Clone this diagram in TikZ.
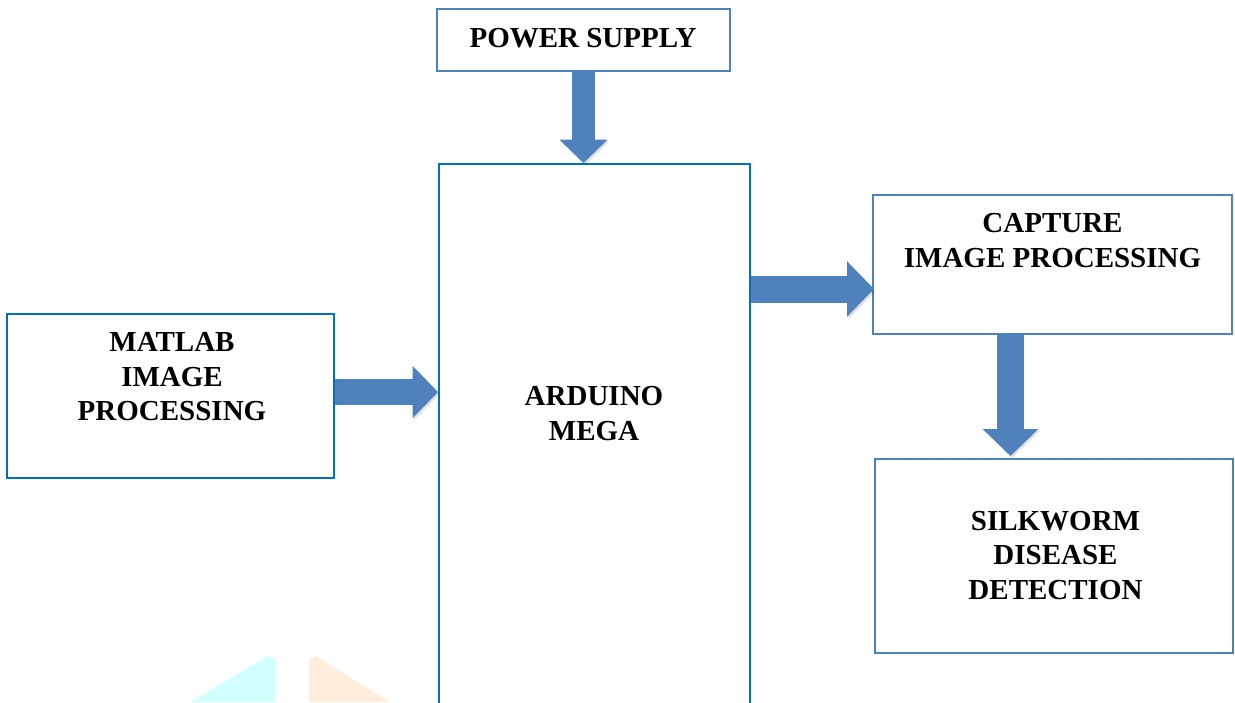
\documentclass[tikz,border=0pt]{standalone}
\usepackage{fontspec}
\setmainfont{Liberation Serif}
\usepackage{xcolor}
\usetikzlibrary{arrows.meta,calc}
\definecolor{boxblue}{HTML}{4F81BD}
\definecolor{darkblue}{HTML}{0070C0}
\definecolor{markcyan}{HTML}{D2FFFF}
\definecolor{markorange}{HTML}{FFEEDC}
\begin{document}
\begin{tikzpicture}[x=1pt,y=-1pt,
  block/.style={shape=rectangle,draw=boxblue,line width=2pt,inner sep=0pt},
  label/.style={align=center,inner sep=0pt,font=\fontsize{29}{34.5}\selectfont\bfseries},
  fatarrow/.style 2 args={draw=boxblue,line width=#1,line cap=butt,
    -{Triangle[width=#2,length=0.5*#2]},
    preaction={draw=black,opacity=0.12,transform canvas={shift={(1.5pt,-2pt)}}}}]
\clip (0,0) rectangle (1235,702);
\fill[white] (0,0) rectangle (1235,702);
% faint marks at the bottom
\fill[markcyan] (190,702) -- (268,656) -- (276,660) -- (276,702) -- cycle;
\fill[markorange] (309,702) -- (309,659) -- (316,656) -- (390,702) -- cycle;
% boxes
\node[block,minimum width=293pt,minimum height=62pt] (power) at (583.5,40) {};
\node[block,draw=darkblue,minimum width=311pt,minimum height=576pt] (arduino) at (594.5,452) {};
\node[block,draw=darkblue,minimum width=327pt,minimum height=164pt] (matlab) at (170.5,396) {};
\node[block,minimum width=359pt,minimum height=139pt] (capture) at (1052.5,264.5) {};
\node[block,minimum width=358pt,minimum height=194pt] (silkworm) at (1054,556) {};
% texts
\node[label] (powertxt) at (583,38) {POWER SUPPLY};
\node[label] (arduinotxt) at (594,413.5) {ARDUINO\\MEGA};
\node[label] (matlabtxt) at (172,377) {MATLAB\\IMAGE\\PROCESSING};
\node[label] (capturetxt) at (1052.5,240.5) {CAPTURE\\IMAGE PROCESSING};
\node[label] (silkwormtxt) at (1055.5,555.5) {SILKWORM\\DISEASE\\DETECTION};
% arrows
\draw[fatarrow={23pt}{47pt}] (power.south) -- (power.south |- arduino.north);
\draw[fatarrow={26pt}{51pt}] ([yshift=4pt]matlab.east) -- ([yshift=4pt]matlab.east -| arduino.west);
\draw[fatarrow={27pt}{54pt}] ([yshift=-24.5pt]capture.west -| arduino.east) -- ([xshift=2pt,yshift=-24.5pt]capture.west);
\draw[fatarrow={27pt}{54pt}] ([xshift=-42pt]capture.south) -- ([xshift=-42pt,yshift=2pt]capture.south |- silkworm.north);
\end{tikzpicture}
\end{document}
